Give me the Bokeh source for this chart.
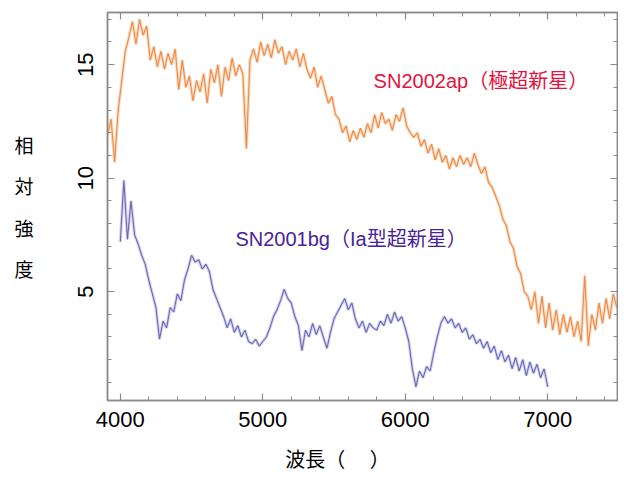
from bokeh.plotting import figure
from bokeh.models import LinearAxis, Range1d, Label, FixedTicker
from bokeh.embed import file_html
from bokeh.resources import INLINE

# SN2002ap (hypernova) spectrum, sampled every 25 A from 3910 A
ap_start, ap_step = 3910, 25
ap_flux = [11.9, 12.6, 10.7, 13.0, 14.3, 15.6, 16.2, 16.9, 15.9, 17.0,
           16.3, 16.7, 15.2, 15.8, 14.9, 15.6, 14.8, 15.5, 15.0, 15.7,
           13.9, 15.2, 14.0, 14.5, 13.4, 14.3, 13.8, 14.6, 13.3, 14.8,
           14.2, 15.0, 13.6, 14.9, 14.3, 15.3, 14.5, 15.0, 14.6, 11.3,
           15.2, 15.7, 15.1, 16.0, 15.4, 15.9, 15.3, 16.1, 15.5, 15.8,
           15.0, 15.6, 15.2, 15.7, 14.9, 15.5, 14.8, 14.4, 14.9, 14.0,
           14.5, 13.9, 13.3, 13.6, 12.8, 12.6, 12.0, 12.3, 11.6, 12.1,
           11.7, 12.2, 11.8, 12.4, 12.0, 12.8, 12.2, 12.9, 12.4, 12.6,
           12.1, 12.8, 12.5, 13.1, 12.3, 12.0, 11.8, 12.0, 11.4, 11.7,
           11.1, 11.5, 10.8, 11.3, 10.7, 11.0, 10.4, 10.9, 10.5, 11.0,
           10.6, 10.9, 10.5, 11.1, 10.6, 10.2, 10.5, 9.8, 9.6, 9.2,
           8.8, 8.2, 7.9, 7.2, 6.9, 6.1, 5.8, 5.0, 4.8, 4.2,
           5.0, 3.6, 4.8, 3.4, 4.5, 3.3, 4.2, 3.1, 4.0, 3.2,
           3.9, 3.0, 3.7, 2.8, 5.7, 2.6, 4.0, 3.3, 4.5, 3.6,
           4.7, 3.8, 4.9, 4.3]
ap_wave = [ap_start + ap_step * i for i in range(len(ap_flux))]

# SN2001bg (type Ia) spectrum, sampled every 25 A from 4000 A
bg_start, bg_step = 4000, 25
bg_flux = [7.2, 9.9, 7.3, 9.0, 7.5, 7.1, 6.6, 6.2, 5.5, 4.9,
           4.3, 2.9, 3.7, 3.4, 4.3, 4.1, 4.9, 4.6, 5.5, 6.0,
           6.6, 6.3, 6.4, 6.0, 6.2, 5.9, 5.1, 4.7, 4.3, 3.9,
           3.4, 3.8, 3.2, 3.5, 3.0, 3.3, 2.8, 2.7, 2.9, 2.6,
           2.8, 3.0, 3.4, 3.9, 4.2, 4.6, 5.1, 4.7, 4.5, 3.9,
           3.5, 2.4, 3.3, 3.0, 3.6, 3.1, 3.5, 3.0, 2.5, 3.2,
           3.8, 4.1, 4.4, 4.7, 4.2, 4.5, 3.8, 3.4, 3.7, 3.2,
           3.6, 3.4, 3.3, 3.7, 3.5, 4.0, 3.6, 4.1, 3.7, 3.9,
           3.4, 2.8, 1.6, 0.8, 1.5, 1.2, 1.7, 1.5, 2.3, 3.0,
           3.6, 3.9, 3.6, 3.8, 3.4, 3.6, 3.2, 3.4, 2.9, 3.1,
           2.7, 2.9, 2.5, 2.8, 2.3, 2.6, 2.0, 2.4, 1.9, 2.2,
           1.6, 2.1, 1.5, 2.0, 1.3, 1.9, 1.4, 1.8, 1.2, 1.6,
           0.8]
bg_wave = [bg_start + bg_step * i for i in range(len(bg_flux))]

x_ticks = [4000, 5000, 6000, 7000]
y_ticks = [5, 10, 15]
x_minor = list(range(3800, 7600, 200))
y_minor = list(range(0, 18))

ylabel_text = "相\n対\n強\n度"
xlabel_text = "波長（\u3000 ）\u3000\u3000\u3000"
ap_label = "SN2002ap（極超新星）"
bg_label = "SN2001bg（Ia型超新星）"

FONT = "Liberation Sans, Arial, 'Noto Sans CJK JP'"
CJK = "'Noto Sans CJK JP'"
FRAME_GRAY = "#8a8a8a"

p = figure(width=618, height=480, x_range=Range1d(3910, 7490),
           y_range=Range1d(0.2, 17.3), output_backend="svg",
           toolbar_location=None, min_border_left=107, min_border_right=1,
           min_border_top=12, min_border_bottom=80)
p.background_fill_color = "white"
p.border_fill_color = "white"
p.grid.visible = False
p.outline_line_color = FRAME_GRAY
p.outline_line_width = 1.5

def style_axis(ax, ticks, minor, show_labels):
    ax.ticker = FixedTicker(ticks=ticks, minor_ticks=minor)
    ax.axis_line_color = FRAME_GRAY
    ax.axis_line_width = 1.5
    ax.major_tick_line_color = FRAME_GRAY
    ax.minor_tick_line_color = FRAME_GRAY
    ax.major_tick_line_width = 1.2
    ax.minor_tick_line_width = 1.0
    ax.major_tick_in = 7
    ax.major_tick_out = 0
    ax.minor_tick_in = 4
    ax.minor_tick_out = 0
    if show_labels:
        ax.major_label_text_font = FONT
        ax.major_label_text_font_size = "22px"
        ax.major_label_text_color = "black"
    else:
        ax.major_label_overrides = {t: "" for t in ticks}
        ax.major_label_text_font_size = "1px"
        ax.major_label_standoff = 0
        ax.axis_label_standoff = 0

xa = p.xaxis[0]
style_axis(xa, x_ticks, x_minor, True)
xa.major_label_standoff = 11
xa.axis_label = xlabel_text
xa.axis_label_text_font = CJK
xa.axis_label_text_font_size = "20px"
xa.axis_label_text_font_style = "normal"
xa.axis_label_text_color = "black"
xa.axis_label_standoff = 14

ya = p.yaxis[0]
style_axis(ya, y_ticks, y_minor, True)
ya.major_label_orientation = "vertical"
ya.major_label_standoff = 14
ya.axis_label = ylabel_text
ya.axis_label_text_font = CJK
ya.axis_label_text_font_size = "19px"
ya.axis_label_text_font_style = "normal"
ya.axis_label_text_color = "black"
ya.axis_label_standoff = 42
ya.axis_label_text_line_height = 1.52
try:
    ya.axis_label_orientation = "horizontal"
except Exception:
    pass

top_ax = LinearAxis()
style_axis(top_ax, x_ticks, x_minor, False)
p.add_layout(top_ax, "above")
right_ax = LinearAxis()
style_axis(right_ax, y_ticks, y_minor, False)
p.add_layout(right_ax, "right")

# spectra: soft halo + thinner core line
p.line(ap_wave, ap_flux, line_color="#f7bf95", line_width=3.2, line_alpha=0.6)
p.line(ap_wave, ap_flux, line_color="#e8843e", line_width=1.1, line_alpha=0.9)
p.line(bg_wave, bg_flux, line_color="#b9b9e6", line_width=3.2, line_alpha=0.6)
p.line(bg_wave, bg_flux, line_color="#5d5daf", line_width=1.1, line_alpha=0.9)

p.add_layout(Label(x=5778, y=14.3, text=ap_label, text_font=FONT,
                   text_font_size="20px", text_color="#e0143c",
                   text_baseline="middle", text_align="left"))
p.add_layout(Label(x=4808, y=7.3, text=bg_label, text_font=FONT,
                   text_font_size="20px", text_color="#4a2496",
                   text_baseline="middle", text_align="left"))

open("out.html", "w").write(file_html(p, INLINE))
